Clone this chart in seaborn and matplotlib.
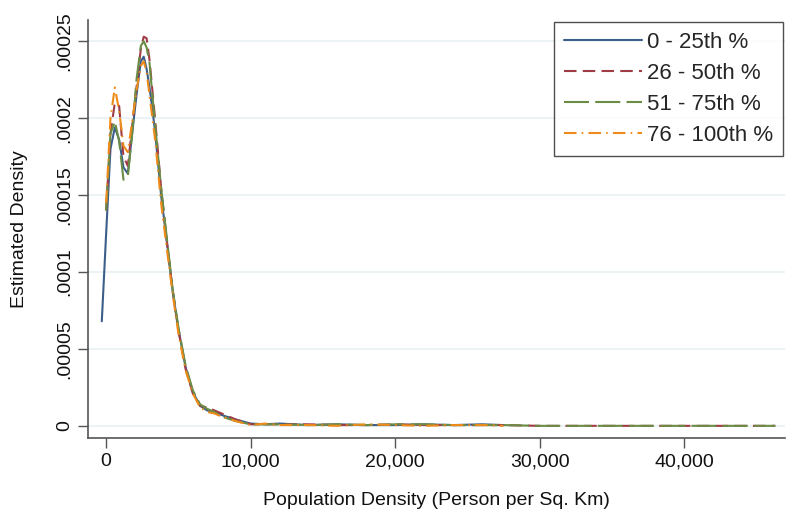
import numpy as np
import pandas as pd
import matplotlib
matplotlib.use("Agg")
import matplotlib.pyplot as plt
import seaborn as sns

# -------------------------------------------------------
# Data (density in units of 1e-5)
# -------------------------------------------------------

x_grid = [-300, 0, 300, 600, 900, 1200, 1500, 1800,
          2100, 2400, 2600, 2800, 3000, 3200, 3400,
          3800, 4200, 4600, 5000, 5500, 6000, 6500, 7000,
          7500, 8000, 9000, 10000, 11000, 12000,
          14000, 16000, 18000, 20000, 22000, 24000, 26000, 27500]

dens_q1 = [6.8, 12.5, 18.0, 19.4, 18.6, 16.8, 16.4, 19.0,
           21.5, 23.7, 24.0, 23.2, 22.0, 20.6, 19.0,
           15.0, 12.0, 8.8, 6.3, 3.8, 2.2, 1.3, 1.0,
           0.9, 0.7, 0.4, 0.15, 0.1, 0.15,
           0.05, 0.1, 0.05, 0.05, 0.1, 0.05, 0.1, 0.05]

dens_q2 = [np.nan, 14.0, 19.0, 21.0, 20.8, 17.5, 16.9, 19.5,
           22.0, 24.5, 25.3, 25.2, 23.8, 21.8, 19.8,
           15.5, 12.0, 8.8, 6.2, 3.7, 2.1, 1.3, 1.2,
           1.0, 0.8, 0.4, 0.1, 0.1, 0.1,
           0.1, 0.05, 0.05, 0.1, 0.05, 0.05, 0.05, 0.05]

dens_q3 = [np.nan, 14.0, 19.0, 19.8, 18.5, 16.0, 16.2, 19.0,
           22.5, 24.7, 25.0, 24.6, 23.6, 21.5, 19.5,
           15.5, 12.2, 8.9, 6.4, 3.9, 2.3, 1.4, 1.1,
           0.9, 0.6, 0.3, 0.1, 0.1, 0.1,
           0.05, 0.1, 0.05, 0.1, 0.1, 0.05, 0.05, 0.05]

dens_q4 = [np.nan, 14.5, 20.0, 22.0, 20.5, 18.2, 17.8, 19.8,
           21.8, 23.4, 23.7, 23.0, 21.5, 20.0, 18.5,
           14.5, 11.5, 8.6, 6.0, 3.6, 2.1, 1.2, 0.9,
           0.8, 0.6, 0.3, 0.05, 0.15, 0.05,
           0.05, 0.0, 0.1, 0.05, 0.0, 0.05, 0.05, 0.0]

# long flat tail for the 26-50 and 51-75 groups
x_tail = [30000, 35000, 40000, 46300]
dens_tail = [0.0, 0.0, 0.0, 0.0]

labels = ["0 - 25th %", "26 - 50th %", "51 - 75th %", "76 - 100th %"]
colors = ["#3b5f8a", "#a03c46", "#6a8c45", "#ee8b1a"]
styles = ["-", (0, (6, 3)), (0, (12, 3)), (0, (6, 2.5, 0.75, 2.5))]

y_ticks = [0, 0.00005, 0.0001, 0.00015, 0.0002, 0.00025]
y_tick_labels = ["0", ".00005", ".0001", ".00015", ".0002", ".00025"]
x_ticks = [0, 10000, 20000, 30000, 40000]
x_tick_labels = ["0", "10,000", "20,000", "30,000", "40,000"]

# -------------------------------------------------------
# Plot Style
# -------------------------------------------------------

sns.set_theme(style="white")
plt.rcParams["font.family"] = ["Liberation Sans", "DejaVu Sans"]

fig = plt.figure(figsize=(7.87, 5.2), dpi=100)
ax = fig.add_axes([0.112, 0.158, 0.886, 0.804])

series = [dens_q1, dens_q2, dens_q3, dens_q4]

for i, dens in enumerate(series):
    xs = list(x_grid)
    ys = list(dens)
    if i in (1, 2):
        xs += x_tail
        ys += dens_tail
    df = pd.DataFrame({"x": xs, "y": np.array(ys) * 1e-5}).dropna()
    sns.lineplot(
        data=df,
        x="x",
        y="y",
        color=colors[i],
        linestyle=styles[i],
        linewidth=1.5,
        label=labels[i],
        ax=ax,
        sort=False,
        estimator=None
    )

# -------------------------------------------------------
# Axes
# -------------------------------------------------------

ax.set_xlim(-1245, 47000)
ax.set_ylim(-0.0000078, 0.000264)

for y in y_ticks:
    ax.axhline(y, color="#eaf2f3", linewidth=1.3, zorder=0)

ax.set_yticks(y_ticks)
ax.set_yticklabels(y_tick_labels, rotation=90, va="center", fontsize=14)
ax.set_xticks(x_ticks)
ax.set_xticklabels(x_tick_labels, fontsize=14)

ax.tick_params(axis="both", direction="out", length=7, width=1,
               color="#555555", labelcolor="#111111", pad=4,
               left=True, bottom=True)

for side in ["top", "right"]:
    ax.spines[side].set_visible(False)
for side in ["left", "bottom"]:
    ax.spines[side].set_color("#555555")
    ax.spines[side].set_linewidth(1.2)

ax.set_xlabel("Population Density (Person per Sq. Km)", fontsize=14,
              labelpad=16, color="#111111")
ax.set_ylabel("Estimated Density", fontsize=14, labelpad=20, color="#111111")

leg = ax.legend(
    loc="upper right",
    bbox_to_anchor=(0.997, 0.995),
    borderaxespad=0,
    fontsize=16,
    frameon=True,
    fancybox=False,
    edgecolor="#222222",
    handlelength=3.5,
    handletextpad=0.25,
    borderpad=0.45,
    labelspacing=0.45
)
leg.get_frame().set_linewidth(1.0)

plt.savefig("out.png", dpi=100)
plt.close()
